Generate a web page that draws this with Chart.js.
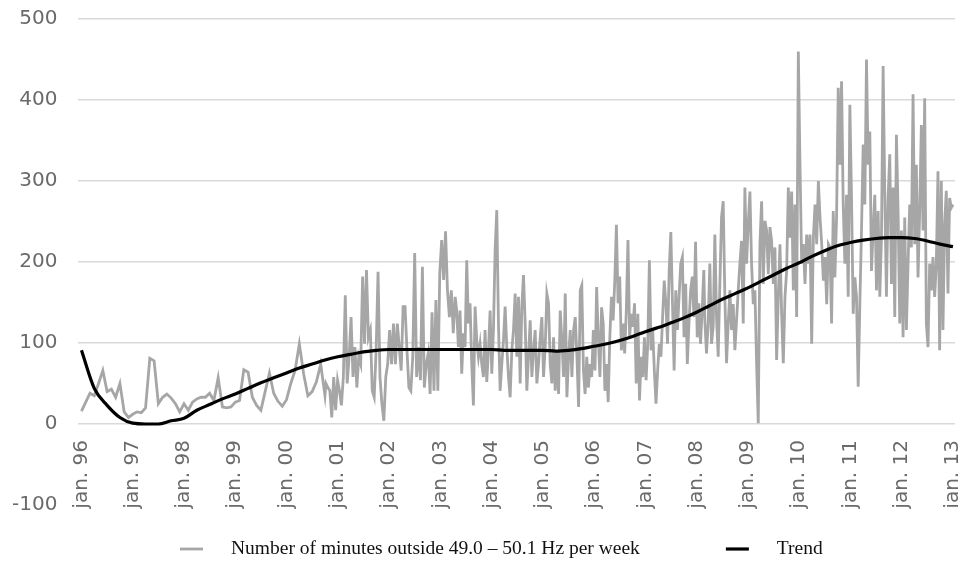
<!DOCTYPE html>
<html>
<head>
<meta charset="utf-8">
<script src="https://cdn.jsdelivr.net/npm/chart.js@4.4.1/dist/chart.umd.min.js"></script>
<style>
  html, body { margin: 0; padding: 0; background: #fff; }
  #wrap { width: 958px; height: 576px; }
</style>
</head>
<body>
<div id="wrap"><canvas id="freq" width="958" height="576"></canvas></div>
<script>
// monthly values jan 96 - oct 00
const monthly9600 = [16, 27, 38, 35, 50, 66, 40, 43, 33, 50, 15, 8, 12, 15, 14, 20, 81, 78, 25, 33,
  37, 32, 25, 15, 25, 17, 27, 31, 33, 33, 38, 29, 57, 21, 20, 21, 27, 29, 67, 64,
  33, 23, 17, 40, 63, 38, 28, 22, 30, 50, 66, 99, 62, 35, 40, 52, 74, 35];

// weekly-ish readings, in blocks (start year, end year)
const weeklyA = [50, 45, 41, 8, 58, 17, 54, 41, 23, 58, 159, 50, 83, 132, 58, 95, 45, 83, 74, 182,
  99, 190, 107, 116, 41, 33, 91, 188, 58, 25, 4, 58, 74, 116, 74, 124, 74, 124, 95, 66,
  145, 145, 91, 45, 41, 83, 211, 58, 95, 54, 194, 45, 74, 87, 37, 138, 41, 153, 41, 186,
  227, 178, 238, 165, 132, 165, 112, 157];
const weeklyB = [140, 95, 140, 62, 112, 95, 202, 124, 149, 74, 23, 145, 103, 83, 99, 74, 58, 116, 52, 91,
  140, 62, 116, 215, 264, 124, 41, 74, 103, 145, 95, 58, 33, 91, 116, 161, 83, 157, 50, 145,
  184, 124, 41, 83, 128, 58, 91, 116, 50, 74, 107, 132, 58, 95, 161, 149, 74, 50, 107, 41,
  91, 37, 140, 103, 58, 161, 33, 83, 116, 58, 116, 132, 83, 21, 165];
const weeklyC = [171, 66, 37, 83, 45, 74, 58, 116, 66, 169, 107, 58, 144, 124, 41, 74, 27, 107, 157, 128,
  177, 246, 149, 182, 91, 124, 87, 140, 227, 107, 136, 120, 149, 50, 136, 29, 83, 58, 107, 54,
  99, 202, 91, 116, 66, 25, 66, 99, 83, 132, 177, 149, 99, 190, 237, 149, 66, 165, 116, 157,
  198, 206, 107, 173, 74, 124, 165, 182, 132, 225, 107, 149, 99, 140, 190];
const weeklyD = [128, 87, 124, 198, 99, 120, 234, 132, 83, 173, 255, 275, 157, 75, 124, 165, 116, 148, 91, 128,
  165, 198, 226, 124, 292, 198, 247, 287, 198, 148, 165, 75, 1, 222, 275, 173, 251, 239, 185, 243,
  226, 173, 218, 79, 157, 222, 136, 75, 157, 189, 292, 230, 287, 165, 271, 132, 460, 320, 198, 222,
  173, 234, 198, 234, 99, 230, 271, 222, 300, 255, 222, 177, 206, 148, 222];
const weeklyE = [218, 124, 263, 181, 255, 415, 320, 423, 271, 198, 283, 157, 394, 279, 136, 181, 157, 46, 148, 239,
  345, 271, 450, 320, 361, 189, 239, 283, 165, 263, 157, 230, 442, 283, 157, 279, 333, 173, 292, 132,
  357, 263, 124, 239, 107, 255, 116, 198, 271, 218, 407, 222, 320, 181, 263, 369, 239, 402, 124, 95,
  198, 165, 206, 157, 198, 312, 91, 300, 116, 247, 288, 161, 279, 267, 271];
const weeklySpans = [[2000.77, 2003.29], [2003.32, 2005.73], [2005.76, 2008.14], [2008.16, 2010.57], [2010.60, 2013.0]];

// trend, one value per quarter from jan 96 to jan 13
const trendQuarterly = [91, 44, 23, 8, 1, 0, 0, 4, 7, 17, 24, 31, 37, 44, 51, 57, 63, 69, 74, 79,
  83, 86, 89, 91, 92, 92, 92, 92, 92, 92, 92, 92, 92, 91, 91, 91, 91, 90, 91, 93,
  96, 99, 103, 108, 114, 119, 125, 131, 138, 146, 154, 161, 168, 176, 184, 192, 199, 207, 214, 220,
  224, 227, 229, 230, 230, 229, 226, 222, 219];

const yTicks = [-100, 0, 100, 200, 300, 400, 500];
const seriesLabels = ['Number of minutes outside 49.0 \u2013 50.1 Hz per week', 'Trend'];

function spread(values, from, to) {
  return values.map((v, i) => ({ x: from + (to - from) * i / (values.length - 1), y: v }));
}

const greyPoints = spread(monthly9600, 1996, 1996 + (monthly9600.length - 1) / 12)
  .concat([weeklyA, weeklyB, weeklyC, weeklyD, weeklyE]
    .flatMap((vals, i) => spread(vals, weeklySpans[i][0], weeklySpans[i][1])));
const trendPoints = trendQuarterly.map((v, i) => ({ x: 1996 + i / 4, y: v }));

// legend drawn by hand so the two entries can sit far apart
const spacedLegend = {
  id: 'spacedLegend',
  afterDraw(chart, args, opts) {
    const ctx = chart.ctx;
    ctx.save();
    ctx.font = opts.font;
    ctx.textBaseline = 'middle';
    let x = opts.x;
    chart.data.datasets.forEach(ds => {
      ctx.strokeStyle = ds.borderColor;
      ctx.lineWidth = ds.borderWidth;
      ctx.beginPath();
      ctx.moveTo(x, opts.y);
      ctx.lineTo(x + opts.lineLen, opts.y);
      ctx.stroke();
      x += opts.lineLen + opts.textGap;
      ctx.fillStyle = opts.color;
      ctx.fillText(ds.label, x, opts.y);
      x += ctx.measureText(ds.label).width + opts.itemGap;
    });
    ctx.restore();
  }
};

const noOverflow = scale => {
  scale.paddingLeft = 0; scale.paddingRight = 0;
  scale.paddingTop = 0; scale.paddingBottom = 0;
};

new Chart(document.getElementById('freq'), {
  type: 'line',
  data: {
    datasets: [
      {
        label: seriesLabels[0],
        data: greyPoints,
        borderColor: '#a6a6a6',
        borderWidth: 2.8,
        pointRadius: 0,
        tension: 0,
        order: 2
      },
      {
        label: seriesLabels[1],
        data: trendPoints,
        borderColor: '#000000',
        borderWidth: 3.2,
        pointRadius: 0,
        cubicInterpolationMode: 'monotone',
        order: 1
      }
    ]
  },
  options: {
    responsive: false,
    animation: false,
    // tick padding counts twice in the y axis width, hence the negative left pad
    layout: { padding: { left: -9, right: 3, top: 19, bottom: 71 } },
    scales: {
      x: {
        type: 'linear',
        position: { y: 0 },
        min: 1995.94,
        max: 2013.04,
        afterFit: noOverflow,
        grid: { display: false },
        border: { display: false },
        ticks: {
          stepSize: 1,
          includeBounds: false,
          autoSkip: false,
          maxRotation: 90,
          minRotation: 90,
          padding: 8,
          color: '#6a6a6a',
          font: { family: 'DejaVu Sans', size: 20 },
          callback: v => 'jan. ' + String(Math.round(v) % 100).padStart(2, '0')
        }
      },
      y: {
        min: -100,
        max: 500,
        afterFit: noOverflow,
        afterBuildTicks: axis => { axis.ticks = yTicks.map(v => ({ value: v })); },
        grid: {
          drawTicks: false,
          lineWidth: 1.5,
          color: c => (c.tick && c.tick.value === -100) ? 'rgba(0,0,0,0)' : '#d9d9d9'
        },
        border: { display: false },
        ticks: {
          padding: 21,
          color: '#6a6a6a',
          font: { family: 'DejaVu Sans', size: 20 }
        }
      }
    },
    plugins: {
      legend: { display: false },
      tooltip: { enabled: false },
      spacedLegend: { x: 180, y: 549, lineLen: 23, textGap: 28, itemGap: 86, color: '#111', font: '19.5px "Liberation Serif"' }
    }
  },
  plugins: [spacedLegend]
});
</script>
</body>
</html>
